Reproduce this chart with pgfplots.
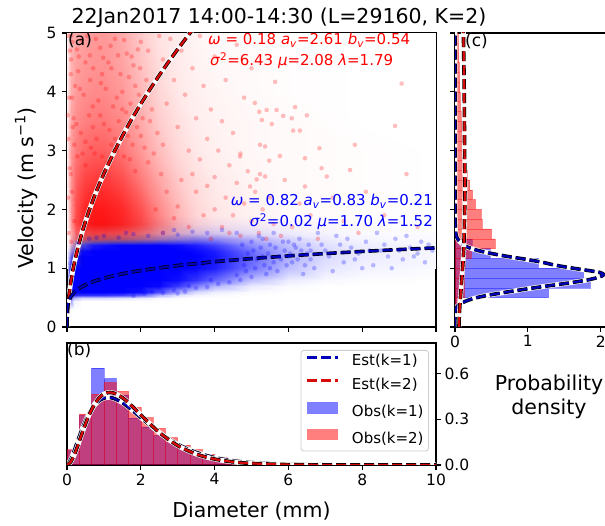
\documentclass[border=0pt]{standalone}
\usepackage{fontspec}
\setmainfont{DejaVu Sans}
\usepackage{pgfplots}
\usepackage{pgfplotstable}
\pgfplotsset{compat=1.18}
\definecolor{fitred}{rgb}{0.85,0.04,0.04}
\definecolor{fitblue}{rgb}{0,0,0.72}
\definecolor{legframe}{rgb}{0.8,0.8,0.8}
\newcommand{\tfont}{\fontsize{15.5}{18}\selectfont}
\newcommand{\lfont}{\fontsize{20.5}{24}\selectfont}
\newcommand{\afont}{\fontsize{15}{18}\selectfont}

\pgfplotsset{
  colormap={wr}{rgb=(1,1,1) rgb=(1,0,0)},
  colormap={wb}{rgb=(1,1,1) rgb=(0,0,1)},
  base/.style={scale only axis, anchor=south west,
    axis line style={line width=1.1pt},
    every tick/.style={line width=1.1pt, black},
    major tick length=5pt, tick align=outside,
    tick label style={font=\tfont}},
  wl/.style={white, line width=4.8pt, forget plot},
  kl/.style={black, line width=3.6pt, dash pattern=on 10pt off 4pt, forget plot},
  rl/.style={fitred, line width=2.2pt, dash pattern=on 10pt off 4pt, forget plot},
  bl/.style={fitblue, line width=2.2pt, dash pattern=on 10pt off 4pt, forget plot},
}

% red point-cloud density (share of the area covered by red points), rows of constant V
\pgfplotstableread{
D V m
0 1.0 0
0.05 1.0 0
0.1 1.0 0
0.25 1.0 0
0.5 1.0 0
0.75 1.0 0
1.0 1.0 0
1.5 1.0 0
2.0 1.0 0
2.5 1.0 0
3.0 1.0 0
3.5 1.0 0
4.0 1.0 0
5.0 1.0 0
6.0 1.0 0
8.0 1.0 0
10 1.0 0
0 1.25 0
0.05 1.25 0.05
0.1 1.25 0.15
0.25 1.25 0.12
0.5 1.25 0
0.75 1.25 0
1.0 1.25 0
1.5 1.25 0
2.0 1.25 0
2.5 1.25 0
3.0 1.25 0
3.5 1.25 0
4.0 1.25 0
5.0 1.25 0
6.0 1.25 0
8.0 1.25 0
10 1.25 0
0 1.4 0.02
0.05 1.4 0.08
0.1 1.4 0.25
0.25 1.4 0.35
0.5 1.4 0.1
0.75 1.4 0.02
1.0 1.4 0
1.5 1.4 0
2.0 1.4 0
2.5 1.4 0
3.0 1.4 0
3.5 1.4 0
4.0 1.4 0
5.0 1.4 0
6.0 1.4 0
8.0 1.4 0
10 1.4 0
0 1.5 0.03
0.05 1.5 0.12
0.1 1.5 0.3
0.25 1.5 0.55
0.5 1.5 0.62
0.75 1.5 0.62
1.0 1.5 0.6
1.5 1.5 0.55
2.0 1.5 0.45
2.5 1.5 0.3
3.0 1.5 0.18
3.5 1.5 0.1
4.0 1.5 0.06
5.0 1.5 0.03
6.0 1.5 0.01
8.0 1.5 0
10 1.5 0
0 1.75 0.05
0.05 1.75 0.2
0.1 1.75 0.4
0.25 1.75 0.72
0.5 1.75 0.88
0.75 1.75 0.92
1.0 1.75 0.92
1.5 1.75 0.86
2.0 1.75 0.72
2.5 1.75 0.5
3.0 1.75 0.3
3.5 1.75 0.17
4.0 1.75 0.1
5.0 1.75 0.05
6.0 1.75 0.02
8.0 1.75 0.01
10 1.75 0
0 2.0 0.06
0.05 2.0 0.22
0.1 2.0 0.42
0.25 2.0 0.7
0.5 2.0 0.86
0.75 2.0 0.9
1.0 2.0 0.9
1.5 2.0 0.84
2.0 2.0 0.68
2.5 2.0 0.46
3.0 2.0 0.28
3.5 2.0 0.16
4.0 2.0 0.1
5.0 2.0 0.05
6.0 2.0 0.02
8.0 2.0 0.01
10 2.0 0
0 2.5 0.07
0.05 2.5 0.24
0.1 2.5 0.42
0.25 2.5 0.62
0.5 2.5 0.74
0.75 2.5 0.78
1.0 2.5 0.78
1.5 2.5 0.7
2.0 2.5 0.52
2.5 2.5 0.35
3.0 2.5 0.21
3.5 2.5 0.13
4.0 2.5 0.08
5.0 2.5 0.04
6.0 2.5 0.02
8.0 2.5 0.01
10 2.5 0
0 3.0 0.07
0.05 3.0 0.24
0.1 3.0 0.4
0.25 3.0 0.52
0.5 3.0 0.6
0.75 3.0 0.63
1.0 3.0 0.63
1.5 3.0 0.55
2.0 3.0 0.4
2.5 3.0 0.26
3.0 3.0 0.15
3.5 3.0 0.09
4.0 3.0 0.06
5.0 3.0 0.03
6.0 3.0 0.02
8.0 3.0 0.01
10 3.0 0
0 3.5 0.07
0.05 3.5 0.22
0.1 3.5 0.36
0.25 3.5 0.45
0.5 3.5 0.5
0.75 3.5 0.52
1.0 3.5 0.52
1.5 3.5 0.46
2.0 3.5 0.33
2.5 3.5 0.2
3.0 3.5 0.12
3.5 3.5 0.07
4.0 3.5 0.05
5.0 3.5 0.03
6.0 3.5 0.02
8.0 3.5 0
10 3.5 0
0 4.0 0.06
0.05 4.0 0.2
0.1 4.0 0.32
0.25 4.0 0.4
0.5 4.0 0.44
0.75 4.0 0.46
1.0 4.0 0.46
1.5 4.0 0.4
2.0 4.0 0.28
2.5 4.0 0.16
3.0 4.0 0.09
3.5 4.0 0.06
4.0 4.0 0.04
5.0 4.0 0.02
6.0 4.0 0.01
8.0 4.0 0
10 4.0 0
0 4.5 0.06
0.05 4.5 0.18
0.1 4.5 0.3
0.25 4.5 0.37
0.5 4.5 0.4
0.75 4.5 0.42
1.0 4.5 0.42
1.5 4.5 0.36
2.0 4.5 0.24
2.5 4.5 0.13
3.0 4.5 0.08
3.5 4.5 0.05
4.0 4.5 0.03
5.0 4.5 0.02
6.0 4.5 0.01
8.0 4.5 0
10 4.5 0
0 5.0 0.05
0.05 5.0 0.17
0.1 5.0 0.28
0.25 5.0 0.35
0.5 5.0 0.38
0.75 5.0 0.4
1.0 5.0 0.4
1.5 5.0 0.33
2.0 5.0 0.21
2.5 5.0 0.11
3.0 5.0 0.07
3.5 5.0 0.04
4.0 5.0 0.02
5.0 5.0 0.01
6.0 5.0 0
8.0 5.0 0
10 5.0 0
}\redgrid

% blue point-cloud density, rows of constant V
\pgfplotstableread{
D V m
0 0.3 0
0.05 0.3 0.15
0.1 0.3 0
0.2 0.3 0
0.4 0.3 0
0.7 0.3 0
1.0 0.3 0
1.5 0.3 0
2.0 0.3 0
2.5 0.3 0
3.0 0.3 0
3.5 0.3 0
4.0 0.3 0
5.0 0.3 0
6.0 0.3 0
7.0 0.3 0
8.0 0.3 0
10 0.3 0
0 0.45 0
0.05 0.45 0.45
0.1 0.45 0.35
0.2 0.45 0.05
0.4 0.45 0
0.7 0.45 0
1.0 0.45 0
1.5 0.45 0
2.0 0.45 0
2.5 0.45 0
3.0 0.45 0
3.5 0.45 0
4.0 0.45 0
5.0 0.45 0
6.0 0.45 0
7.0 0.45 0
8.0 0.45 0
10 0.45 0
0 0.5 0
0.05 0.5 0.6
0.1 0.5 0.6
0.2 0.5 0.3
0.4 0.5 0.15
0.7 0.5 0.15
1.0 0.5 0.15
1.5 0.5 0.12
2.0 0.5 0.08
2.5 0.5 0.03
3.0 0.5 0.01
3.5 0.5 0
4.0 0.5 0
5.0 0.5 0
6.0 0.5 0
7.0 0.5 0
8.0 0.5 0
10 0.5 0
0 0.55 0
0.05 0.55 0.7
0.1 0.55 0.9
0.2 0.55 0.85
0.4 0.55 0.8
0.7 0.55 0.8
1.0 0.55 0.8
1.5 0.55 0.75
2.0 0.55 0.6
2.5 0.55 0.3
3.0 0.55 0.12
3.5 0.55 0.05
4.0 0.55 0.02
5.0 0.55 0
6.0 0.55 0
7.0 0.55 0
8.0 0.55 0
10 0.55 0
0 0.6 0
0.05 0.6 0.7
0.1 0.6 1
0.2 0.6 1
0.4 0.6 1
0.7 0.6 1
1.0 0.6 1
1.5 0.6 1
2.0 0.6 0.95
2.5 0.6 0.7
3.0 0.6 0.35
3.5 0.6 0.15
4.0 0.6 0.07
5.0 0.6 0.02
6.0 0.6 0
7.0 0.6 0
8.0 0.6 0
10 0.6 0
0 0.7 0
0.05 0.7 0.7
0.1 0.7 1
0.2 0.7 1
0.4 0.7 1
0.7 0.7 1
1.0 0.7 1
1.5 0.7 1
2.0 0.7 1
2.5 0.7 0.97
3.0 0.7 0.78
3.5 0.7 0.5
4.0 0.7 0.28
5.0 0.7 0.08
6.0 0.7 0.02
7.0 0.7 0
8.0 0.7 0
10 0.7 0
0 0.8 0
0.05 0.8 0.7
0.1 0.8 1
0.2 0.8 1
0.4 0.8 1
0.7 0.8 1
1.0 0.8 1
1.5 0.8 1
2.0 0.8 1
2.5 0.8 1
3.0 0.8 0.95
3.5 0.8 0.8
4.0 0.8 0.6
5.0 0.8 0.25
6.0 0.8 0.08
7.0 0.8 0.03
8.0 0.8 0.01
10 0.8 0
0 1.0 0
0.05 1.0 0.6
0.1 1.0 0.95
0.2 1.0 1
0.4 1.0 1
0.7 1.0 1
1.0 1.0 1
1.5 1.0 1
2.0 1.0 1
2.5 1.0 1
3.0 1.0 1
3.5 1.0 0.97
4.0 1.0 0.88
5.0 1.0 0.55
6.0 1.0 0.25
7.0 1.0 0.1
8.0 1.0 0.05
10 1.0 0.02
0 1.2 0
0.05 1.2 0.3
0.1 1.2 0.6
0.2 1.2 0.85
0.4 1.2 1
0.7 1.2 1
1.0 1.2 1
1.5 1.2 1
2.0 1.2 1
2.5 1.2 1
3.0 1.2 1
3.5 1.2 1
4.0 1.2 0.92
5.0 1.2 0.62
6.0 1.2 0.32
7.0 1.2 0.15
8.0 1.2 0.08
10 1.2 0.03
0 1.3 0
0.05 1.3 0.15
0.1 1.3 0.35
0.2 1.3 0.6
0.4 1.3 0.95
0.7 1.3 1
1.0 1.3 1
1.5 1.3 1
2.0 1.3 1
2.5 1.3 1
3.0 1.3 1
3.5 1.3 0.97
4.0 1.3 0.88
5.0 1.3 0.57
6.0 1.3 0.3
7.0 1.3 0.15
8.0 1.3 0.08
10 1.3 0.03
0 1.4 0
0.05 1.4 0.05
0.1 1.4 0.15
0.2 1.4 0.3
0.4 1.4 0.7
0.7 1.4 0.9
1.0 1.4 0.95
1.5 1.4 1
2.0 1.4 1
2.5 1.4 1
3.0 1.4 0.96
3.5 1.4 0.88
4.0 1.4 0.75
5.0 1.4 0.45
6.0 1.4 0.25
7.0 1.4 0.12
8.0 1.4 0.07
10 1.4 0.03
0 1.5 0
0.05 1.5 0
0.1 1.5 0.05
0.2 1.5 0.1
0.4 1.5 0.2
0.7 1.5 0.28
1.0 1.5 0.3
1.5 1.5 0.32
2.0 1.5 0.35
2.5 1.5 0.4
3.0 1.5 0.45
3.5 1.5 0.5
4.0 1.5 0.45
5.0 1.5 0.3
6.0 1.5 0.17
7.0 1.5 0.08
8.0 1.5 0.04
10 1.5 0.02
0 1.6 0
0.05 1.6 0
0.1 1.6 0
0.2 1.6 0.02
0.4 1.6 0.04
0.7 1.6 0.06
1.0 1.6 0.07
1.5 1.6 0.08
2.0 1.6 0.1
2.5 1.6 0.13
3.0 1.6 0.16
3.5 1.6 0.18
4.0 1.6 0.17
5.0 1.6 0.12
6.0 1.6 0.07
7.0 1.6 0.04
8.0 1.6 0.02
10 1.6 0.01
0 1.75 0
0.05 1.75 0
0.1 1.75 0
0.2 1.75 0
0.4 1.75 0.01
0.7 1.75 0.01
1.0 1.75 0.02
1.5 1.75 0.02
2.0 1.75 0.03
2.5 1.75 0.04
3.0 1.75 0.05
3.5 1.75 0.05
4.0 1.75 0.05
5.0 1.75 0.04
6.0 1.75 0.03
7.0 1.75 0.02
8.0 1.75 0.01
10 1.75 0
0 1.9 0
0.05 1.9 0
0.1 1.9 0
0.2 1.9 0
0.4 1.9 0
0.7 1.9 0
1.0 1.9 0
1.5 1.9 0
2.0 1.9 0
2.5 1.9 0
3.0 1.9 0
3.5 1.9 0
4.0 1.9 0
5.0 1.9 0
6.0 1.9 0
7.0 1.9 0
8.0 1.9 0
10 1.9 0
}\bluegrid

\pgfplotstableread{
D V
0 0
0.005 0.149
0.01 0.217
0.02 0.316
0.03 0.393
0.05 0.518
0.07 0.621
0.1 0.753
0.15 0.937
0.2 1.094
0.3 1.362
0.4 1.591
0.5 1.795
0.6 1.981
0.75 2.234
0.875 2.428
1.0 2.610
1.25 2.944
1.5 3.249
1.75 3.531
2.0 3.795
2.25 4.044
2.5 4.281
2.75 4.507
3.0 4.723
3.2 4.891
3.4 5.054
}\redV

\pgfplotstableread{
D V
0 0
0.005 0.273
0.01 0.316
0.02 0.365
0.05 0.443
0.1 0.512
0.2 0.592
0.3 0.645
0.5 0.718
0.75 0.781
1.0 0.830
1.25 0.870
1.5 0.904
1.75 0.934
2.0 0.960
2.5 1.006
3.0 1.045
4.0 1.111
5.0 1.164
6.0 1.209
7.0 1.249
8.0 1.285
9.0 1.317
10.0 1.346
}\blueV

\pgfplotstableread{
D f
0 0
0.1 0.0344
0.2 0.0959
0.3 0.1642
0.4 0.2299
0.5 0.2886
0.6 0.3380
0.75 0.3932
0.9 0.4268
1.0 0.4385
1.1 0.4430
1.25 0.4383
1.5 0.4087
1.75 0.3631
2.0 0.3116
2.5 0.2130
3.0 0.1358
3.5 0.0825
4.0 0.0484
4.5 0.0277
5.0 0.0155
6.0 0.0046
7.0 0.0013
8.0 0.0004
10 0
}\blueN

\pgfplotstableread{
D f
0 0
0.1 0.0194
0.2 0.0685
0.3 0.1331
0.4 0.2025
0.5 0.2693
0.6 0.3291
0.75 0.4002
0.9 0.4471
1.0 0.4655
1.1 0.4743
1.25 0.4731
1.5 0.4419
1.75 0.3893
2.0 0.3284
2.5 0.2135
3.0 0.1274
3.5 0.0717
4.0 0.0387
4.5 0.0202
5.0 0.0103
6.0 0.0025
7.0 0.0006
8.0 0.0001
10 0
}\redN

\pgfplotstableread{
d V
0 0
0.001 0.2
0.01 0.3
0.03 0.35
0.08 0.4
0.17 0.45
0.30 0.5
0.50 0.55
0.74 0.6
1.00 0.65
1.28 0.7
1.57 0.75
1.82 0.8
1.98 0.85
2.04 0.89
1.98 0.93
1.78 0.97
1.62 1.0
1.38 1.05
1.20 1.1
0.98 1.15
0.72 1.2
0.50 1.25
0.32 1.3
0.19 1.35
0.11 1.4
0.035 1.5
0.01 1.6
0.002 1.8
0 2.5
0 5.1
}\blueP

\pgfplotstableread{
d V
0.055 0
0.06 0.23
0.085 0.68
0.117 1.25
0.13 1.81
0.137 2.38
0.132 2.94
0.126 4.08
0.115 5.0
0.112 5.2
}\redP

\pgfplotstableread{
V r b
0 0 0
0.1667 0 0
0.3333 0.03 0.02
0.5 0.13 1.28
0.6667 0.13 1.85
0.8333 0.13 1.76
1.0 0.14 1.14
1.1667 0.22 0.48
1.3333 0.55 0.23
1.5 0.50 0
1.6667 0.37 0
1.8333 0.36 0
2.0 0.28 0
2.1667 0.24 0
2.3333 0.20 0
2.5 0.17 0
2.6667 0.14 0
2.8333 0.12 0
3.0 0.11 0
3.1667 0.10 0
3.3333 0.09 0
3.5 0.08 0
3.6667 0.075 0
3.8333 0.07 0
4.0 0.065 0
4.1667 0.06 0
4.3333 0.055 0
4.5 0.05 0
4.6667 0.045 0
4.8333 0.04 0
5.0 0 0
}\histV

\pgfplotstableread{
D r b
0 0.10 0.095
0.3333 0.335 0.325
0.6667 0.465 0.635
1.0 0.54 0.567
1.3333 0.483 0.46
1.6667 0.378 0.307
2.0 0.31 0.25
2.3333 0.24 0.195
2.6667 0.18 0.146
3.0 0.13 0.11
3.3333 0.10 0.085
3.6667 0.072 0.062
4.0 0.054 0.046
4.3333 0.04 0.034
4.6667 0.028 0.025
5.0 0.02 0.018
5.3333 0.014 0.012
5.6667 0.01 0.009
6.0 0.007 0.006
6.3333 0.005 0.005
6.6667 0.004 0.004
7.0 0.003 0.003
7.3333 0.002 0.002
7.6667 0.002 0.002
8.0 0.001 0.001
8.3333 0.001 0.001
8.6667 0.001 0.001
9.0 0.001 0.001
9.3333 0.001 0.001
9.6667 0.001 0.001
10 0 0
}\histD

\begin{document}
\begin{tikzpicture}
\path[use as bounding box] (0,0) rectangle (605pt,526pt);

% ---------------- (a) scatter ----------------
\begin{axis}[base, at={(67pt,199pt)}, width=369pt, height=294pt,
  xmin=0, xmax=10, ymin=0, ymax=5,
  xtick={0,2,4,6,8,10}, xticklabels={},
  ytick={0,1,2,3,4,5}, yticklabels={0,1,2,3,4,5}, tick pos=left,
  yticklabel style={xshift=-2pt},
  point meta min=0, point meta max=1]
\addplot[surf, shader=interp, colormap name=wr, mesh/cols=17, point meta=explicit] table[x=D,y=V,meta=m]{\redgrid};
\addplot[only marks, mark=*, mark size=2.3pt, red, mark options={draw opacity=0, fill=red, fill opacity=0.25}] coordinates {
(0.15,4.85)(0.32,4.6)(0.55,4.95)(0.71,4.4)(0.9,4.75)(1.12,4.5)(1.3,4.9)(1.45,4.3)(1.62,4.65)(1.8,4.45)(2.0,4.85)(2.15,4.2)(0.22,4.1)(0.45,3.95)(0.63,4.2)(0.85,3.85)(1.05,4.05)(1.25,3.75)(1.5,4.0)(1.72,3.8)(1.95,3.95)(2.3,3.7)(0.18,3.55)(0.38,3.3)(0.6,3.6)(0.8,3.2)(1.0,3.45)(1.2,3.1)(1.4,3.5)(1.65,3.25)(1.9,3.4)(2.1,3.05)(2.45,3.3)(0.28,2.9)(0.5,2.75)(0.75,2.95)(1.1,2.8)(1.55,2.9)(1.85,2.65)(2.2,2.8)(2.55,2.6)(0.13,2.3)(0.2,1.8)(0.12,1.45)(0.25,1.25)(2.7,2.3)(2.4,2.0)(2.9,1.85)(2.6,1.6)(3.1,2.5)(3.3,1.7)(3.0,2.05)
(0.12,4.95)(0.27,4.72)(0.4,4.88)(0.62,4.62)(0.78,4.9)(0.98,4.58)(1.18,4.78)(1.38,4.62)(1.55,4.88)(1.75,4.6)(1.92,4.72)(0.3,4.35)(0.5,4.5)(0.95,4.3)(1.2,4.4)(1.68,4.25)(1.98,4.4)(0.14,3.9)(0.35,4.05)(0.7,3.75)(0.92,4.15)(1.35,3.9)(1.6,3.65)(1.85,4.1)(2.05,3.55)(0.25,3.45)(0.5,3.15)(0.7,3.4)(0.9,3.6)(1.15,3.35)(1.3,3.2)(1.5,3.7)(1.78,3.1)(2.0,3.25)(2.25,3.5)(0.2,3.1)(0.42,2.95)(0.65,3.05)(0.95,2.9)(1.35,3.0)(1.7,2.85)(2.35,2.95)(2.6,3.1)(0.1,2.6)(0.16,3.4)(0.11,4.55)
(2.8,4.9)(3.1,4.7)(2.6,4.55)(3.4,4.4)(2.9,4.2)(3.7,4.1)(3.2,3.95)(2.7,3.8)(3.9,3.7)(3.5,3.55)(4.2,3.5)(3.0,3.4)(4.5,3.3)(3.8,3.2)(4.1,3.0)(4.7,2.95)(3.6,2.85)(4.4,2.75)(4.9,2.65)(4.0,2.55)(4.6,2.45)(5.1,2.3)(4.3,2.2)(4.8,2.1)(5.3,2.0)(4.5,1.9)(5.0,1.8)(5.6,1.75)(4.2,1.7)(5.2,1.6)(4.7,1.55)(5.8,1.55)(3.9,1.5)(6.1,1.7)(5.5,2.2)(5.9,2.5)(6.3,2.1)(6.6,1.9)(7.2,2.2)(6.9,2.7)(7.5,1.8)(8.1,2.3)(8.6,1.9)(9.2,2.6)(7.8,3.1)(6.5,3.6)(4.3,4.2)(4.0,4.6)(3.6,4.95)(4.6,4.8)(5.0,4.4)(4.8,3.9)(3.3,3.0)(2.5,4.95)(2.2,4.7)(3.5,2.3)(3.7,1.9)(4.0,2.0)(3.4,2.6)(3.8,2.4)(4.4,1.6)(5.4,1.5)(6.8,1.5)(7.9,1.6)(9.5,1.7)
(5.64,4.17)(5.09,3.81)(5.41,3.69)(5.68,3.69)(5.21,3.66)(6.18,3.74)(5.86,3.59)(6.09,3.55)(5.28,3.52)(5.55,3.45)(6.13,3.34)(6.31,3.34)(5.23,3.10)(5.37,3.07)(5.77,2.91)(5.48,2.83)(6.45,2.87)(6.84,3.04)(5.23,2.60)(5.37,2.56)(5.14,2.51)(7.04,2.56)(7.67,2.67)(6.45,2.39)(9.07,4.14)(8.89,3.42)(4.69,2.90)(4.96,2.39)
(0.05,1.6)(0.07,2.7)(0.06,3.9)(0.08,4.7)(0.04,3.2)(0.1,4.3)(0.03,2.2)(0.04,4.95)(0.02,3.6)};
\addplot[surf, shader=interp, colormap name=wb, mesh/cols=18, point meta=explicit, blend mode=multiply] table[x=D,y=V,meta=m]{\bluegrid};
\addplot[only marks, mark=*, mark size=2.3pt, blue, mark options={draw opacity=0, fill=blue, fill opacity=0.25}] coordinates {
(2.3,0.6)(2.6,0.58)(2.9,0.62)(3.2,0.6)(3.5,0.66)(3.3,0.7)(3.8,0.68)(4.1,0.73)(4.4,0.76)(3.9,0.8)(4.7,0.8)(5.0,0.85)(4.6,0.88)(2.1,0.57)(1.8,0.53)(3.0,0.57)
(0.3,1.42)(0.6,1.5)(1.0,1.55)(1.4,1.52)(1.8,1.58)(2.2,1.55)(2.6,1.6)(3.0,1.57)(3.4,1.62)(3.8,1.6)(4.2,1.65)(4.6,1.6)(0.8,1.52)(1.6,1.6)(2.9,1.65)
(4.8,1.05)(4.9,1.25)(5.0,1.45)(5.15,1.15)(5.25,1.35)(5.35,1.05)(5.45,1.25)(5.6,1.1)(5.65,1.35)(5.75,1.2)(5.85,1.45)(5.95,1.05)(6.05,1.25)(6.15,1.4)(6.25,1.15)(6.35,1.3)(6.45,1.05)(6.55,1.4)(6.6,1.3)(4.85,0.95)(5.05,1.3)(5.5,1.0)(6.0,1.2)(5.3,1.5)(4.75,1.4)
(5.1,1.0)(5.3,1.2)(5.5,1.4)(5.7,0.95)(5.9,1.3)(6.1,1.1)(6.3,1.5)(6.5,1.25)(6.7,1.0)(6.9,1.4)(7.1,1.2)(7.3,1.55)(7.5,1.1)(7.7,1.35)(7.9,1.25)(8.1,1.45)(8.3,1.05)(8.5,1.3)(8.7,1.2)(8.9,1.5)(9.1,1.15)(9.3,1.35)(9.5,1.25)(9.7,1.1)(9.9,1.3)(5.2,1.55)(5.6,1.6)(6.0,1.45)(6.4,0.9)(6.8,1.6)(7.2,0.95)(7.6,1.5)(8.0,1.0)(8.4,1.6)(8.8,1.0)(9.2,1.55)(9.6,1.45)(5.4,0.9)(5.8,1.15)(6.2,1.35)(6.6,1.15)(7.0,1.3)(7.4,1.4)(7.8,1.15)(8.2,1.3)(8.6,1.4)(9.0,1.3)(9.4,1.2)(9.8,1.4)};
\addplot[wl] table[x=D,y=V]{\redV};
\addplot[kl] table[x=D,y=V]{\redV};
\addplot[rl] table[x=D,y=V]{\redV};
\addplot[kl] table[x=D,y=V]{\blueV};
\addplot[bl] table[x=D,y=V]{\blueV};
\end{axis}

% ---------------- (c) velocity pdf ----------------
\begin{axis}[base, at={(455pt,199pt)}, width=188pt, height=294pt,
  xmin=0, xmax=2.58, ymin=0, ymax=5,
  xtick={0,1,2}, xticklabels={0,1,2},
  ytick={0,1,2,3,4,5}, yticklabels={}, tick pos=left]
\addplot[xbar interval, fill=blue, fill opacity=0.5, draw=blue, draw opacity=0.4, line width=0.5pt] table[x=b,y=V]{\histV};
\addplot[xbar interval, fill=red, fill opacity=0.5, draw=red, draw opacity=0.4, line width=0.5pt] table[x=r,y=V]{\histV};
\addplot[wl, smooth] table[x=d,y=V]{\blueP};
\addplot[kl, smooth] table[x=d,y=V]{\blueP};
\addplot[bl, smooth] table[x=d,y=V]{\blueP};
\addplot[wl, smooth] table[x=d,y=V]{\redP};
\addplot[kl, smooth] table[x=d,y=V]{\redP};
\addplot[rl, smooth] table[x=d,y=V]{\redP};
\end{axis}

% ---------------- (b) diameter pdf ----------------
\begin{axis}[base, at={(67pt,61pt)}, width=369pt, height=122pt,
  xmin=0, xmax=10, ymin=0, ymax=0.8,
  xtick={0,2,4,6,8,10}, xticklabels={0,2,4,6,8,10},
  ytick={0,0.3,0.6}, yticklabels={0.0,0.3,0.6},
  xtick pos=left, ytick pos=right, yticklabel pos=right,
  legend cell align=left,
  legend style={at={(0.981,0.943)}, anchor=north east, draw=legframe, line width=0.8pt,
    fill=white, fill opacity=0.8, text opacity=1, rounded corners=3pt,
    font=\fontsize{15}{18}\selectfont, inner xsep=5pt, inner ysep=4.5pt,
    row sep=9pt, column sep=12pt,
    nodes={inner sep=0pt, text height=11pt, text depth=3.5pt}}]
\addplot[ybar interval, fill=blue, fill opacity=0.5, draw=blue, draw opacity=0.4, line width=0.5pt, forget plot] table[x=D,y=b]{\histD};
\addplot[ybar interval, fill=red, fill opacity=0.5, draw=red, draw opacity=0.4, line width=0.5pt, forget plot] table[x=D,y=r]{\histD};
\addplot[wl, smooth] table[x=D,y=f]{\blueN};
\addplot[kl, smooth] table[x=D,y=f]{\blueN};
\addplot[bl, smooth] table[x=D,y=f]{\blueN};
\addplot[wl, smooth] table[x=D,y=f]{\redN};
\addplot[kl, smooth] table[x=D,y=f]{\redN};
\addplot[rl, smooth] table[x=D,y=f]{\redN};
\addlegendimage{legend image code/.code={\draw[fitblue, line width=3pt, sharp corners, dash pattern=on 10pt off 4pt] (0pt,4.7pt) -- (31pt,4.7pt);}}
\addlegendentry{Est(k=1)}
\addlegendimage{legend image code/.code={\draw[fitred, line width=3pt, sharp corners, dash pattern=on 10pt off 4pt] (0pt,4.7pt) -- (31pt,4.7pt);}}
\addlegendentry{Est(k=2)}
\addlegendimage{legend image code/.code={\path[draw=none, sharp corners, fill=blue, fill opacity=0.5] (0pt,-1.1pt) rectangle (31pt,10.6pt);}}
\addlegendentry{Obs(k=1)}
\addlegendimage{legend image code/.code={\path[draw=none, sharp corners, fill=red, fill opacity=0.5] (0pt,-1.1pt) rectangle (31pt,10.6pt);}}
\addlegendentry{Obs(k=2)}
\end{axis}

% ---------------- texts ----------------
\node[anchor=base, font=\lfont, inner sep=0pt] at (279pt,502.5pt) {22Jan2017 14:00-14:30 (L=29160, K=2)};
\node[anchor=base, rotate=90, font=\lfont, inner sep=0pt] at (33pt,338pt) {Velocity (m s\textsuperscript{−1})};
\node[anchor=base, font=\lfont, inner sep=0pt] at (251.5pt,8pt) {Diameter (mm)};
\node[anchor=base, font=\lfont, inner sep=0pt] at (549pt,135pt) {Probability};
\node[anchor=base, font=\lfont, inner sep=0pt] at (549pt,111pt) {density};
\node[anchor=base west, font=\afont, text=red, inner sep=0pt] at (208pt,481pt) {\textit{ω} = 0.18 \textit{a}\textsubscript{\textit{v}}=2.61 \textit{b}\textsubscript{\textit{v}}=0.54};
\node[anchor=base west, font=\afont, text=red, inner sep=0pt] at (210pt,460pt) {\textit{σ}\textsuperscript{2}=6.43 \textit{μ}=2.08 \textit{λ}=1.79};
\node[anchor=base east, font=\afont, text=blue, inner sep=0pt] at (433pt,320pt) {\textit{ω} = 0.82 \textit{a}\textsubscript{\textit{v}}=0.83 \textit{b}\textsubscript{\textit{v}}=0.21};
\node[anchor=base east, font=\afont, text=blue, inner sep=0pt] at (433pt,299.5pt) {\textit{σ}\textsuperscript{2}=0.02 \textit{μ}=1.70 \textit{λ}=1.52};
\node[anchor=base west, font=\fontsize{17}{20}\selectfont, inner sep=0pt] at (68pt,480pt) {(a)};
\node[anchor=base west, font=\fontsize{17}{20}\selectfont, inner sep=0pt] at (67pt,170pt) {(b)};
\node[anchor=base west, font=\fontsize{17}{20}\selectfont, inner sep=0pt] at (465pt,479pt) {(c)};
\end{tikzpicture}
\end{document}
